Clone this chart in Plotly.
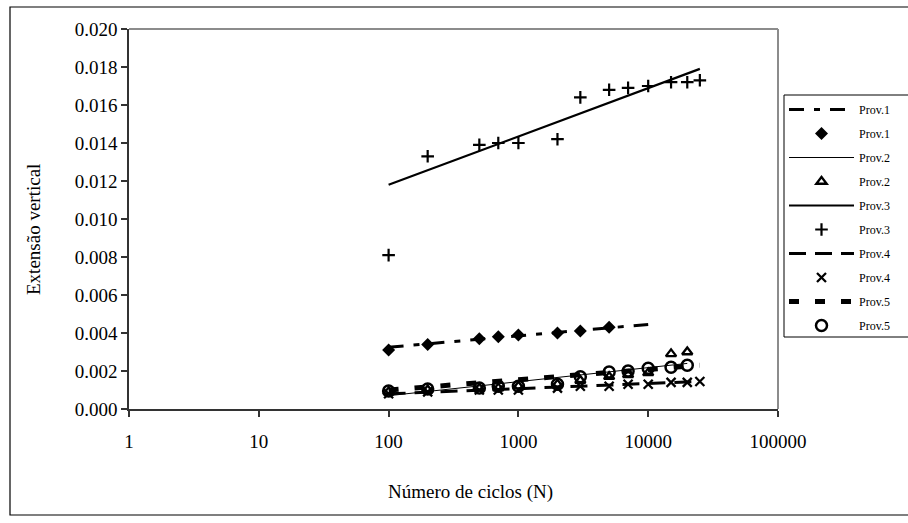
import plotly.graph_objects as go

# ---- data ----
n_prov1 = [100, 200, 500, 700, 1000, 2000, 3000, 5000]
ext_prov1 = [0.0031, 0.0034, 0.0037, 0.0038, 0.0039, 0.0040, 0.0041, 0.0043]

n_prov2 = [100, 200, 500, 700, 1000, 2000, 3000, 5000, 7000, 10000, 15000, 20000]
ext_prov2 = [0.0009, 0.0010, 0.0011, 0.0011, 0.0012, 0.0013, 0.0015, 0.0017, 0.0018, 0.0019, 0.0029, 0.0030]

n_prov3 = [100, 200, 500, 700, 1000, 2000, 3000, 5000, 7000, 10000, 15000, 20000, 25000]
ext_prov3 = [0.0081, 0.0133, 0.0139, 0.0140, 0.0140, 0.0142, 0.0164, 0.0168, 0.0169, 0.0170, 0.0172, 0.0172, 0.0173]

n_prov4 = [100, 200, 500, 700, 1000, 2000, 3000, 5000, 7000, 10000, 15000, 20000, 25000]
ext_prov4 = [0.0008, 0.0009, 0.0010, 0.0010, 0.0010, 0.0011, 0.0012, 0.0012, 0.0013, 0.0013, 0.0014, 0.0014, 0.00145]

n_prov5 = [100, 200, 500, 700, 1000, 2000, 3000, 5000, 7000, 10000, 15000, 20000]
ext_prov5 = [0.00095, 0.00105, 0.0011, 0.0012, 0.0012, 0.0013, 0.0017, 0.00195, 0.0020, 0.00215, 0.0022, 0.0023]

# logarithmic trend lines (end values)
trend_n_prov1 = [100, 10000]
trend_v_prov1 = [0.00325, 0.00445]
trend_n_prov2 = [100, 20000]
trend_v_prov2 = [0.0007, 0.0024]
trend_n_prov3 = [100, 25000]
trend_v_prov3 = [0.0118, 0.0179]
trend_n_prov4 = [100, 25000]
trend_v_prov4 = [0.0008, 0.00145]
trend_n_prov5 = [100, 25000]
trend_v_prov5 = [0.0010, 0.0023]

x_tickvals = [1, 10, 100, 1000, 10000, 100000]
x_ticktext = ["1", "10", "100", "1000", "10000", "100000"]
y_tickvals = [0.000, 0.002, 0.004, 0.006, 0.008, 0.010, 0.012, 0.014, 0.016, 0.018, 0.020]

x_title = "Número de ciclos (N)"
y_title = "Extensão vertical"

FONT = "Liberation Serif"
BLACK = "#000000"

# layout geometry (pixels)
W, H = 908, 523
PL, PR, PT, PB = 129, 778, 29, 409
PW, PH = PR - PL, PB - PT


def px_x(p):
    return (p - PL) / PW


def px_y(p):
    return (PB - p) / PH


fig = go.Figure()


def add_pair(name, tn, tv, line, xs, ys, marker, grp):
    fig.add_trace(go.Scatter(x=tn, y=tv, mode="lines", name=name, line=line,
                             legendgroup=grp + "l", hoverinfo="skip"))
    fig.add_trace(go.Scatter(x=xs, y=ys, mode="markers", name=name, marker=marker,
                             legendgroup=grp + "m"))


add_pair("Prov.1", trend_n_prov1, trend_v_prov1,
         dict(color=BLACK, width=3, dash="15px,10px,6px,10px"),
         n_prov1, ext_prov1,
         dict(symbol="diamond", size=10, color=BLACK), "p1")
add_pair("Prov.2", trend_n_prov2, trend_v_prov2,
         dict(color=BLACK, width=1),
         n_prov2, ext_prov2,
         dict(symbol="triangle-up-open", size=9, color=BLACK, line=dict(width=2.3, color=BLACK)), "p2")
add_pair("Prov.3", trend_n_prov3, trend_v_prov3,
         dict(color=BLACK, width=2.2),
         n_prov3, ext_prov3,
         dict(symbol="cross-thin", size=9, color=BLACK, line=dict(width=2.2, color=BLACK)), "p3")
add_pair("Prov.4", trend_n_prov4, trend_v_prov4,
         dict(color=BLACK, width=3, dash="17px,9px"),
         n_prov4, ext_prov4,
         dict(symbol="x-thin", size=9, color=BLACK, line=dict(width=2.3, color=BLACK)), "p4")
add_pair("Prov.5", trend_n_prov5, trend_v_prov5,
         dict(color=BLACK, width=5, dash="10px,16px"),
         n_prov5, ext_prov5,
         dict(symbol="circle-open", size=11, color=BLACK, line=dict(width=2.5, color=BLACK)), "p5")

fig.update_layout(
    width=W, height=H,
    margin=dict(l=PL, r=W - PR, t=PT, b=H - PB),
    paper_bgcolor="white", plot_bgcolor="white",
    font=dict(family=FONT, color=BLACK, size=19),
    showlegend=True,
    legend=dict(
        x=px_x(784), xanchor="left",
        y=px_y(95), yanchor="top",
        borderwidth=0,
        bgcolor="rgba(0,0,0,0)",
        font=dict(family=FONT, size=12, color=BLACK),
        itemwidth=65,
        tracegroupgap=5,
        traceorder="grouped",
    ),
    xaxis=dict(
        type="log", range=[0, 5],
        tickvals=x_tickvals, ticktext=x_ticktext,
        showgrid=False, zeroline=False,
        showline=True, linecolor="#333333", linewidth=1.5,
        ticks="outside", ticklen=6, tickcolor="#333333", tickwidth=1.5,
        ticklabelstandoff=8,
        tickfont=dict(family=FONT, size=19, color=BLACK),
    ),
    yaxis=dict(
        range=[0, 0.02],
        tickvals=y_tickvals, tickformat=".3f",
        showgrid=False, zeroline=False,
        showline=True, linecolor="#333333", linewidth=1.5,
        ticks="outside", ticklen=6, tickcolor="#333333", tickwidth=1.5,
        tickfont=dict(family=FONT, size=19, color=BLACK),
    ),
    annotations=[
        dict(text=x_title, xref="paper", yref="paper", x=px_x(470), y=px_y(492),
             showarrow=False, xanchor="center", yanchor="middle",
             font=dict(family=FONT, size=19, color=BLACK)),
        dict(text=y_title, xref="paper", yref="paper", x=px_x(33), y=px_y(229),
             showarrow=False, xanchor="center", yanchor="middle", textangle=-90,
             font=dict(family=FONT, size=19, color=BLACK)),
    ],
    shapes=[
        # plot area border (top and right, grey)
        dict(type="line", xref="paper", yref="paper", x0=0, x1=1, y0=1, y1=1,
             line=dict(color="#8c8c8c", width=2)),
        dict(type="line", xref="paper", yref="paper", x0=1, x1=1, y0=0, y1=1,
             line=dict(color="#8c8c8c", width=2)),
        # outer chart frame (right side falls outside the picture)
        dict(type="rect", xref="paper", yref="paper",
             x0=px_x(10), x1=px_x(1100),
             y0=px_y(515), y1=px_y(7),
             line=dict(color=BLACK, width=1.2), layer="below"),
        # legend frame (right side falls outside the picture)
        dict(type="rect", xref="paper", yref="paper",
             x0=px_x(784), x1=px_x(1000),
             y0=px_y(337), y1=px_y(95),
             line=dict(color=BLACK, width=1), layer="below"),
    ],
)

fig.write_html("out.html")
